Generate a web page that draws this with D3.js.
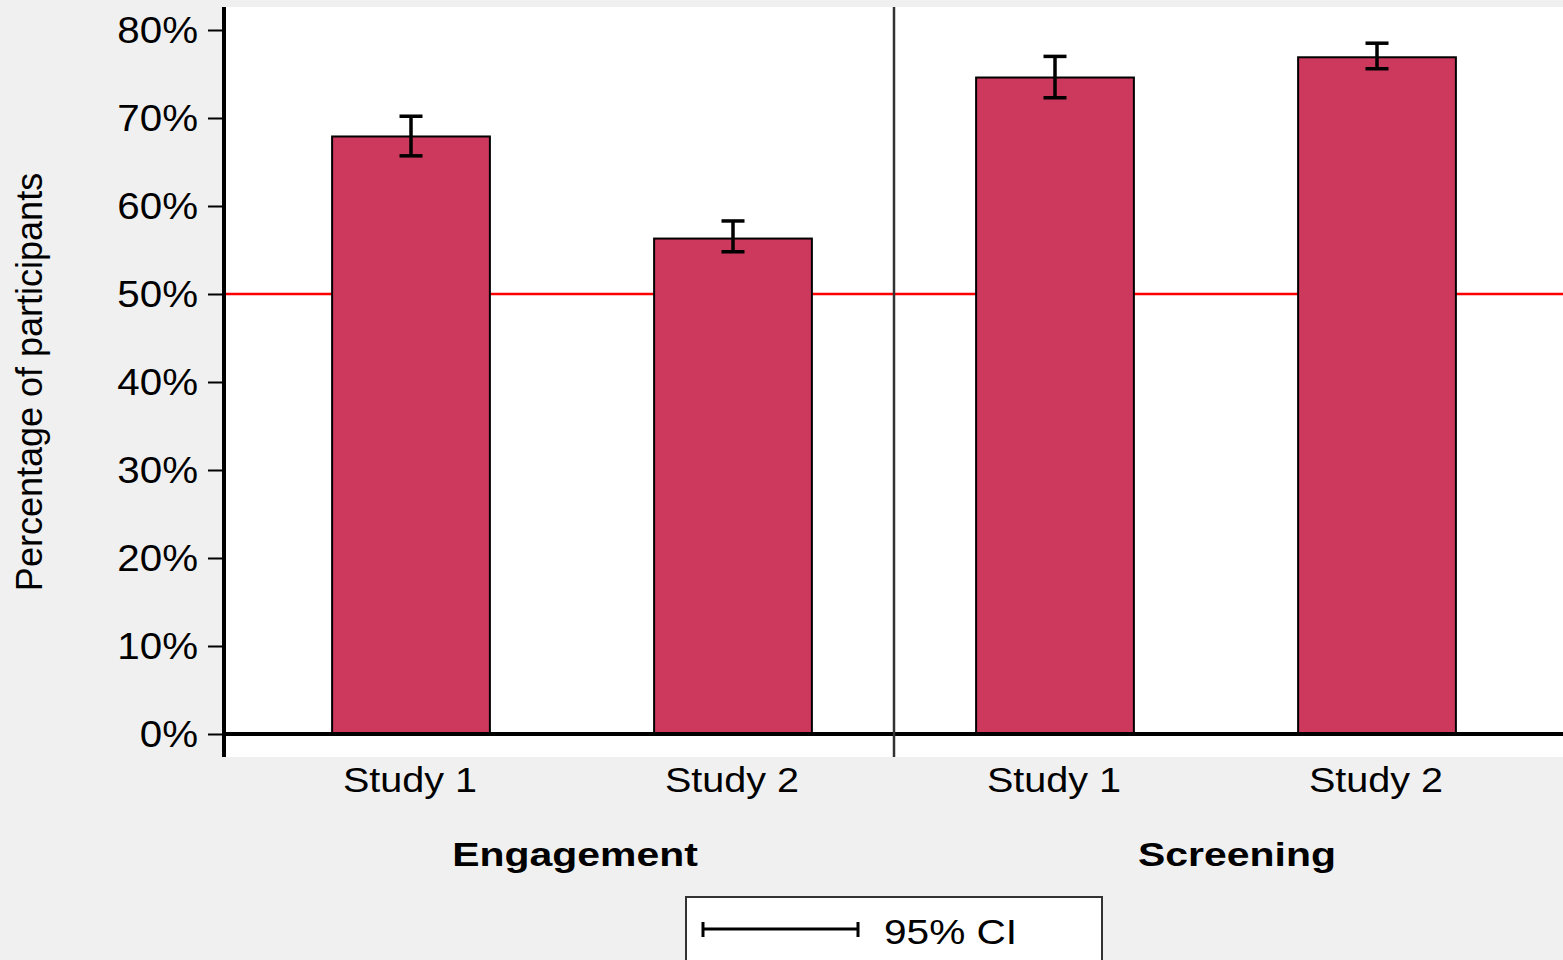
<!DOCTYPE html>
<html>
<head>
<meta charset="utf-8">
<script src="https://cdn.jsdelivr.net/npm/d3@7/dist/d3.min.js"></script>
<style>
  html, body { margin: 0; padding: 0; background: #f0f0f0; }
  svg { display: block; font-family: "Liberation Sans", Arial, Helvetica, sans-serif; }
</style>
</head>
<body>
<svg id="chart" width="1563" height="960"></svg>
<script>
// Share of participants per study, with 95% confidence intervals
const groups = ["Engagement", "Screening"];
const studies = ["Study 1", "Study 2"];
const barKeys = ["Engagement|Study 1", "Engagement|Study 2", "Screening|Study 1", "Screening|Study 2"];
const pct = [67.9, 56.3, 74.6, 76.9];
const ciLow = [65.7, 54.8, 72.3, 75.6];
const ciHigh = [70.2, 58.3, 77.0, 78.5];
const yTicks = [0, 10, 20, 30, 40, 50, 60, 70, 80];
const referenceLevel = 50;
const legendLabel = "95% CI";
const yTitle = "Percentage of participants";

const W = 1563, H = 960;
const plot = { left: 224, right: 1563, top: 7, bottom: 757 };
const barFill = "#cd385d";

const svg = d3.select("#chart");

// widen text horizontally to the chart's typeface proportions
function stretch(sel, factor) {
  sel.each(function () {
    const len = this.getComputedTextLength();
    d3.select(this).attr("textLength", len * factor).attr("lengthAdjust", "spacingAndGlyphs");
  });
}

const x = d3.scaleBand()
  .domain(barKeys)
  .range([250, 1538])
  .paddingInner(0.51)
  .paddingOuter(0.255);

const y = d3.scaleLinear().domain([0, 80]).range([734, 30]);

const rows = barKeys.map((k, i) => ({
  key: k, group: k.split("|")[0], study: k.split("|")[1],
  value: pct[i], lo: ciLow[i], hi: ciHigh[i]
}));

// backgrounds
svg.append("rect").attr("width", W).attr("height", H).attr("fill", "#f0f0f0");
svg.append("rect")
  .attr("x", plot.left).attr("y", plot.top)
  .attr("width", plot.right - plot.left).attr("height", plot.bottom - plot.top)
  .attr("fill", "#ffffff");

// 50% reference line
svg.append("line")
  .attr("x1", plot.left).attr("x2", plot.right)
  .attr("y1", y(referenceLevel)).attr("y2", y(referenceLevel))
  .attr("stroke", "#ff0000").attr("stroke-width", 2.5);

// bars
svg.append("g").selectAll("rect").data(rows).join("rect")
  .attr("x", d => x(d.key))
  .attr("y", d => y(d.value))
  .attr("width", x.bandwidth())
  .attr("height", d => y(0) - y(d.value))
  .attr("fill", barFill)
  .attr("stroke", "#000")
  .attr("stroke-width", 2);

// confidence interval whiskers
const capHalf = 11.5;
const eb = svg.append("g").attr("stroke", "#000").attr("stroke-width", 3.5);
rows.forEach(d => {
  const cx = x(d.key) + x.bandwidth() / 2;
  eb.append("line").attr("x1", cx).attr("x2", cx).attr("y1", y(d.lo)).attr("y2", y(d.hi));
  eb.append("line").attr("x1", cx - capHalf).attr("x2", cx + capHalf).attr("y1", y(d.lo)).attr("y2", y(d.lo));
  eb.append("line").attr("x1", cx - capHalf).attr("x2", cx + capHalf).attr("y1", y(d.hi)).attr("y2", y(d.hi));
});

// zero baseline
svg.append("line")
  .attr("x1", plot.left).attr("x2", plot.right)
  .attr("y1", y(0)).attr("y2", y(0))
  .attr("stroke", "#000").attr("stroke-width", 4);

// divider between the two groups
const divX = (x(barKeys[1]) + x.bandwidth() + x(barKeys[2])) / 2;
svg.append("line")
  .attr("x1", divX).attr("x2", divX)
  .attr("y1", plot.top).attr("y2", plot.bottom)
  .attr("stroke", "#333").attr("stroke-width", 2.5);

// y axis
const yAxis = svg.append("g")
  .attr("transform", `translate(${plot.left},0)`)
  .call(d3.axisLeft(y).tickValues(yTicks).tickFormat(d => d + "%").tickSize(16).tickPadding(10));
yAxis.select(".domain").remove();
yAxis.selectAll(".tick line").attr("stroke", "#000").attr("stroke-width", 2);
yAxis.selectAll(".tick text")
  .attr("font-size", 36)
  .attr("font-family", "Liberation Sans, Arial, sans-serif")
  .attr("fill", "#000")
  .attr("dy", "0.36em")
  .call(stretch, 1.12);
svg.append("line")
  .attr("x1", plot.left).attr("x2", plot.left)
  .attr("y1", plot.top).attr("y2", plot.bottom)
  .attr("stroke", "#000").attr("stroke-width", 4);

// study labels
svg.append("g").selectAll("text").data(rows).join("text")
  .attr("x", d => x(d.key) + x.bandwidth() / 2 - 1)
  .attr("y", 792)
  .attr("text-anchor", "middle")
  .attr("font-size", 35)
  .attr("fill", "#000")
  .text(d => d.study)
  .call(stretch, 1.13);

// group labels
const groupLabelX = [575, 1237];
svg.append("g").selectAll("text").data(groups).join("text")
  .attr("x", (d, i) => groupLabelX[i])
  .attr("y", 866)
  .attr("text-anchor", "middle")
  .attr("font-size", 33)
  .attr("font-weight", "bold")
  .attr("fill", "#000")
  .text(d => d)
  .call(stretch, 1.24);

// y axis title
svg.append("text")
  .attr("transform", "translate(42,382) rotate(-90)")
  .attr("text-anchor", "middle")
  .attr("font-size", 36)
  .attr("fill", "#000")
  .text(yTitle);

// legend
const lg = svg.append("g");
lg.append("rect")
  .attr("x", 686).attr("y", 897).attr("width", 416).attr("height", 90)
  .attr("fill", "#fff").attr("stroke", "#333").attr("stroke-width", 2);
lg.append("line").attr("x1", 703).attr("x2", 858).attr("y1", 929).attr("y2", 929)
  .attr("stroke", "#000").attr("stroke-width", 3);
lg.append("line").attr("x1", 703).attr("x2", 703).attr("y1", 922).attr("y2", 937)
  .attr("stroke", "#000").attr("stroke-width", 3);
lg.append("line").attr("x1", 858).attr("x2", 858).attr("y1", 922).attr("y2", 937)
  .attr("stroke", "#000").attr("stroke-width", 3);
lg.append("text")
  .attr("x", 884).attr("y", 944)
  .attr("font-size", 35)
  .attr("fill", "#000")
  .text(legendLabel)
  .call(stretch, 1.16);
</script>
</body>
</html>
